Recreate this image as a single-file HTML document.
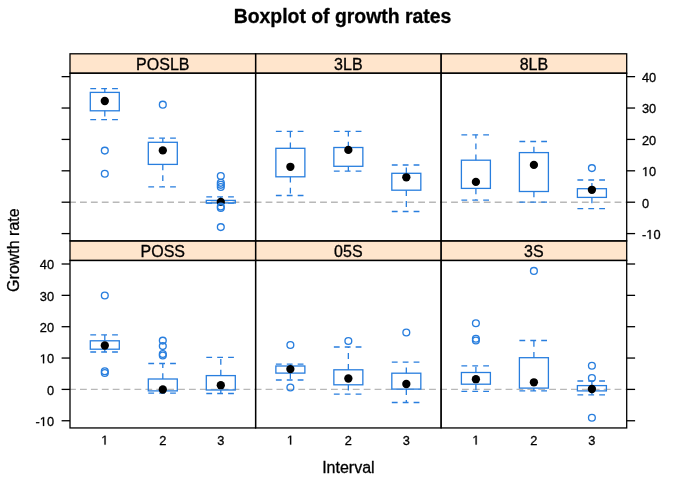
<!DOCTYPE html><html><head><meta charset="utf-8"><style>html,body{margin:0;padding:0;background:#fff;width:685px;height:489px;overflow:hidden}svg{display:block;will-change:transform}text{font-family:"Liberation Sans",sans-serif;stroke:#000;stroke-width:0.3px;paint-order:stroke}.t1{stroke:#000;stroke-width:0.3px}</style></head><body>
<svg width="685" height="489" viewBox="0 0 685 489">
<rect width="685" height="489" fill="#fff"/>
<text x="342.5" y="22.6" font-size="19.4" font-weight="bold" text-anchor="middle" fill="#000">Boxplot of growth rates</text>
<rect x="70.00" y="53.80" width="185.60" height="19.40" fill="#ffe5cc"/>
<text x="162.80" y="69.50" font-size="16" text-anchor="middle" fill="#000">POSLB</text>
<line x1="69.10" y1="202.20" x2="255.60" y2="202.20" stroke="#b8b8b8" stroke-width="1.35" stroke-dasharray="6.8 4.1"/>
<rect x="255.60" y="53.80" width="185.50" height="19.40" fill="#ffe5cc"/>
<text x="348.35" y="69.50" font-size="16" text-anchor="middle" fill="#000">3LB</text>
<line x1="254.70" y1="202.20" x2="441.10" y2="202.20" stroke="#b8b8b8" stroke-width="1.35" stroke-dasharray="6.8 4.1"/>
<rect x="441.10" y="53.80" width="185.60" height="19.40" fill="#ffe5cc"/>
<text x="533.90" y="69.50" font-size="16" text-anchor="middle" fill="#000">8LB</text>
<line x1="440.20" y1="202.20" x2="626.70" y2="202.20" stroke="#b8b8b8" stroke-width="1.35" stroke-dasharray="6.8 4.1"/>
<rect x="70.00" y="240.90" width="185.60" height="19.55" fill="#ffe5cc"/>
<text x="162.80" y="256.75" font-size="16" text-anchor="middle" fill="#000">POSS</text>
<line x1="69.10" y1="389.40" x2="255.60" y2="389.40" stroke="#b8b8b8" stroke-width="1.35" stroke-dasharray="6.8 4.1"/>
<rect x="255.60" y="240.90" width="185.50" height="19.55" fill="#ffe5cc"/>
<text x="348.35" y="256.75" font-size="16" text-anchor="middle" fill="#000">05S</text>
<line x1="254.70" y1="389.40" x2="441.10" y2="389.40" stroke="#b8b8b8" stroke-width="1.35" stroke-dasharray="6.8 4.1"/>
<rect x="441.10" y="240.90" width="185.60" height="19.55" fill="#ffe5cc"/>
<text x="533.90" y="256.75" font-size="16" text-anchor="middle" fill="#000">3S</text>
<line x1="440.20" y1="389.40" x2="626.70" y2="389.40" stroke="#b8b8b8" stroke-width="1.35" stroke-dasharray="6.8 4.1"/>
<line x1="104.80" y1="92.40" x2="104.80" y2="88.55" stroke="#287ede" stroke-width="1.30" stroke-dasharray="5.8 5.1"/><line x1="104.80" y1="110.80" x2="104.80" y2="119.70" stroke="#287ede" stroke-width="1.30" stroke-dasharray="5.8 5.1"/><line x1="90.30" y1="88.55" x2="119.30" y2="88.55" stroke="#287ede" stroke-width="1.30" stroke-dasharray="5.8 5.1"/><line x1="90.30" y1="119.70" x2="119.30" y2="119.70" stroke="#287ede" stroke-width="1.30" stroke-dasharray="5.8 5.1"/><rect x="90.30" y="92.40" width="29.00" height="18.40" fill="none" stroke="#287ede" stroke-width="1.30"/><circle cx="104.80" cy="101.00" r="4.15" fill="#000"/><circle cx="104.80" cy="150.60" r="3.40" fill="none" stroke="#287ede" stroke-width="1.35"/><circle cx="104.80" cy="173.70" r="3.40" fill="none" stroke="#287ede" stroke-width="1.35"/>
<line x1="162.80" y1="142.30" x2="162.80" y2="138.20" stroke="#287ede" stroke-width="1.30" stroke-dasharray="5.8 5.1"/><line x1="162.80" y1="164.40" x2="162.80" y2="186.90" stroke="#287ede" stroke-width="1.30" stroke-dasharray="5.8 5.1"/><line x1="148.30" y1="138.20" x2="177.30" y2="138.20" stroke="#287ede" stroke-width="1.30" stroke-dasharray="5.8 5.1"/><line x1="148.30" y1="186.90" x2="177.30" y2="186.90" stroke="#287ede" stroke-width="1.30" stroke-dasharray="5.8 5.1"/><rect x="148.30" y="142.30" width="29.00" height="22.10" fill="none" stroke="#287ede" stroke-width="1.30"/><circle cx="162.80" cy="150.40" r="4.15" fill="#000"/><circle cx="162.80" cy="104.70" r="3.40" fill="none" stroke="#287ede" stroke-width="1.35"/>
<line x1="220.80" y1="200.40" x2="220.80" y2="196.90" stroke="#287ede" stroke-width="1.30" stroke-dasharray="5.8 5.1"/><line x1="220.80" y1="203.00" x2="220.80" y2="203.20" stroke="#287ede" stroke-width="1.30" stroke-dasharray="5.8 5.1"/><line x1="206.30" y1="196.90" x2="235.30" y2="196.90" stroke="#287ede" stroke-width="1.30" stroke-dasharray="5.8 5.1"/><line x1="206.30" y1="203.20" x2="235.30" y2="203.20" stroke="#287ede" stroke-width="1.30" stroke-dasharray="5.8 5.1"/><rect x="206.30" y="200.40" width="29.00" height="2.60" fill="none" stroke="#287ede" stroke-width="1.30"/><circle cx="220.80" cy="201.90" r="4.15" fill="#000"/><circle cx="220.80" cy="176.00" r="3.40" fill="none" stroke="#287ede" stroke-width="1.35"/><circle cx="220.80" cy="182.80" r="3.40" fill="none" stroke="#287ede" stroke-width="1.35"/><circle cx="220.80" cy="184.80" r="3.40" fill="none" stroke="#287ede" stroke-width="1.35"/><circle cx="220.80" cy="187.00" r="3.40" fill="none" stroke="#287ede" stroke-width="1.35"/><circle cx="220.80" cy="206.60" r="3.40" fill="none" stroke="#287ede" stroke-width="1.35"/><circle cx="220.80" cy="208.00" r="3.40" fill="none" stroke="#287ede" stroke-width="1.35"/><circle cx="220.80" cy="227.10" r="3.40" fill="none" stroke="#287ede" stroke-width="1.35"/>
<line x1="290.38" y1="148.30" x2="290.38" y2="131.40" stroke="#287ede" stroke-width="1.30" stroke-dasharray="5.8 5.1"/><line x1="290.38" y1="176.80" x2="290.38" y2="195.50" stroke="#287ede" stroke-width="1.30" stroke-dasharray="5.8 5.1"/><line x1="275.88" y1="131.40" x2="304.88" y2="131.40" stroke="#287ede" stroke-width="1.30" stroke-dasharray="5.8 5.1"/><line x1="275.88" y1="195.50" x2="304.88" y2="195.50" stroke="#287ede" stroke-width="1.30" stroke-dasharray="5.8 5.1"/><rect x="275.88" y="148.30" width="29.00" height="28.50" fill="none" stroke="#287ede" stroke-width="1.30"/><circle cx="290.38" cy="166.80" r="4.15" fill="#000"/>
<line x1="348.35" y1="147.50" x2="348.35" y2="131.40" stroke="#287ede" stroke-width="1.30" stroke-dasharray="5.8 5.1"/><line x1="348.35" y1="166.30" x2="348.35" y2="171.10" stroke="#287ede" stroke-width="1.30" stroke-dasharray="5.8 5.1"/><line x1="333.85" y1="131.40" x2="362.85" y2="131.40" stroke="#287ede" stroke-width="1.30" stroke-dasharray="5.8 5.1"/><line x1="333.85" y1="171.10" x2="362.85" y2="171.10" stroke="#287ede" stroke-width="1.30" stroke-dasharray="5.8 5.1"/><rect x="333.85" y="147.50" width="29.00" height="18.80" fill="none" stroke="#287ede" stroke-width="1.30"/><circle cx="348.35" cy="149.90" r="4.15" fill="#000"/>
<line x1="406.32" y1="173.30" x2="406.32" y2="165.00" stroke="#287ede" stroke-width="1.30" stroke-dasharray="5.8 5.1"/><line x1="406.32" y1="190.20" x2="406.32" y2="211.50" stroke="#287ede" stroke-width="1.30" stroke-dasharray="5.8 5.1"/><line x1="391.82" y1="165.00" x2="420.82" y2="165.00" stroke="#287ede" stroke-width="1.30" stroke-dasharray="5.8 5.1"/><line x1="391.82" y1="211.50" x2="420.82" y2="211.50" stroke="#287ede" stroke-width="1.30" stroke-dasharray="5.8 5.1"/><rect x="391.82" y="173.30" width="29.00" height="16.90" fill="none" stroke="#287ede" stroke-width="1.30"/><circle cx="406.32" cy="177.30" r="4.15" fill="#000"/>
<line x1="475.90" y1="160.20" x2="475.90" y2="134.80" stroke="#287ede" stroke-width="1.30" stroke-dasharray="5.8 5.1"/><line x1="475.90" y1="188.40" x2="475.90" y2="200.10" stroke="#287ede" stroke-width="1.30" stroke-dasharray="5.8 5.1"/><line x1="461.40" y1="134.80" x2="490.40" y2="134.80" stroke="#287ede" stroke-width="1.30" stroke-dasharray="5.8 5.1"/><line x1="461.40" y1="200.10" x2="490.40" y2="200.10" stroke="#287ede" stroke-width="1.30" stroke-dasharray="5.8 5.1"/><rect x="461.40" y="160.20" width="29.00" height="28.20" fill="none" stroke="#287ede" stroke-width="1.30"/><circle cx="475.90" cy="181.90" r="4.15" fill="#000"/>
<line x1="533.90" y1="152.60" x2="533.90" y2="141.50" stroke="#287ede" stroke-width="1.30" stroke-dasharray="5.8 5.1"/><line x1="533.90" y1="191.50" x2="533.90" y2="202.10" stroke="#287ede" stroke-width="1.30" stroke-dasharray="5.8 5.1"/><line x1="519.40" y1="141.50" x2="548.40" y2="141.50" stroke="#287ede" stroke-width="1.30" stroke-dasharray="5.8 5.1"/><line x1="519.40" y1="202.10" x2="548.40" y2="202.10" stroke="#287ede" stroke-width="1.30" stroke-dasharray="5.8 5.1"/><rect x="519.40" y="152.60" width="29.00" height="38.90" fill="none" stroke="#287ede" stroke-width="1.30"/><circle cx="533.90" cy="164.90" r="4.15" fill="#000"/>
<line x1="591.90" y1="188.70" x2="591.90" y2="180.00" stroke="#287ede" stroke-width="1.30" stroke-dasharray="5.8 5.1"/><line x1="591.90" y1="197.40" x2="591.90" y2="208.70" stroke="#287ede" stroke-width="1.30" stroke-dasharray="5.8 5.1"/><line x1="577.40" y1="180.00" x2="606.40" y2="180.00" stroke="#287ede" stroke-width="1.30" stroke-dasharray="5.8 5.1"/><line x1="577.40" y1="208.70" x2="606.40" y2="208.70" stroke="#287ede" stroke-width="1.30" stroke-dasharray="5.8 5.1"/><rect x="577.40" y="188.70" width="29.00" height="8.70" fill="none" stroke="#287ede" stroke-width="1.30"/><circle cx="591.90" cy="189.80" r="4.15" fill="#000"/><circle cx="591.90" cy="168.10" r="3.40" fill="none" stroke="#287ede" stroke-width="1.35"/>
<line x1="104.80" y1="340.80" x2="104.80" y2="334.90" stroke="#287ede" stroke-width="1.30" stroke-dasharray="5.8 5.1"/><line x1="104.80" y1="349.20" x2="104.80" y2="352.00" stroke="#287ede" stroke-width="1.30" stroke-dasharray="5.8 5.1"/><line x1="90.30" y1="334.90" x2="119.30" y2="334.90" stroke="#287ede" stroke-width="1.30" stroke-dasharray="5.8 5.1"/><line x1="90.30" y1="352.00" x2="119.30" y2="352.00" stroke="#287ede" stroke-width="1.30" stroke-dasharray="5.8 5.1"/><rect x="90.30" y="340.80" width="29.00" height="8.40" fill="none" stroke="#287ede" stroke-width="1.30"/><circle cx="104.80" cy="345.50" r="4.15" fill="#000"/><circle cx="104.80" cy="295.50" r="3.40" fill="none" stroke="#287ede" stroke-width="1.35"/><circle cx="104.80" cy="371.30" r="3.40" fill="none" stroke="#287ede" stroke-width="1.35"/><circle cx="104.80" cy="373.00" r="3.40" fill="none" stroke="#287ede" stroke-width="1.35"/>
<line x1="162.80" y1="379.00" x2="162.80" y2="363.50" stroke="#287ede" stroke-width="1.30" stroke-dasharray="5.8 5.1"/><line x1="162.80" y1="390.90" x2="162.80" y2="393.10" stroke="#287ede" stroke-width="1.30" stroke-dasharray="5.8 5.1"/><line x1="148.30" y1="363.50" x2="177.30" y2="363.50" stroke="#287ede" stroke-width="1.30" stroke-dasharray="5.8 5.1"/><line x1="148.30" y1="393.10" x2="177.30" y2="393.10" stroke="#287ede" stroke-width="1.30" stroke-dasharray="5.8 5.1"/><rect x="148.30" y="379.00" width="29.00" height="11.90" fill="none" stroke="#287ede" stroke-width="1.30"/><circle cx="162.80" cy="389.50" r="4.15" fill="#000"/><circle cx="162.80" cy="340.60" r="3.40" fill="none" stroke="#287ede" stroke-width="1.35"/><circle cx="162.80" cy="346.10" r="3.40" fill="none" stroke="#287ede" stroke-width="1.35"/><circle cx="162.80" cy="354.00" r="3.40" fill="none" stroke="#287ede" stroke-width="1.35"/><circle cx="162.80" cy="355.50" r="3.40" fill="none" stroke="#287ede" stroke-width="1.35"/>
<line x1="220.80" y1="375.60" x2="220.80" y2="357.40" stroke="#287ede" stroke-width="1.30" stroke-dasharray="5.8 5.1"/><line x1="220.80" y1="390.00" x2="220.80" y2="393.50" stroke="#287ede" stroke-width="1.30" stroke-dasharray="5.8 5.1"/><line x1="206.30" y1="357.40" x2="235.30" y2="357.40" stroke="#287ede" stroke-width="1.30" stroke-dasharray="5.8 5.1"/><line x1="206.30" y1="393.50" x2="235.30" y2="393.50" stroke="#287ede" stroke-width="1.30" stroke-dasharray="5.8 5.1"/><rect x="206.30" y="375.60" width="29.00" height="14.40" fill="none" stroke="#287ede" stroke-width="1.30"/><circle cx="220.80" cy="385.20" r="4.15" fill="#000"/>
<line x1="290.38" y1="366.00" x2="290.38" y2="364.10" stroke="#287ede" stroke-width="1.30" stroke-dasharray="5.8 5.1"/><line x1="290.38" y1="373.10" x2="290.38" y2="380.00" stroke="#287ede" stroke-width="1.30" stroke-dasharray="5.8 5.1"/><line x1="275.88" y1="364.10" x2="304.88" y2="364.10" stroke="#287ede" stroke-width="1.30" stroke-dasharray="5.8 5.1"/><line x1="275.88" y1="380.00" x2="304.88" y2="380.00" stroke="#287ede" stroke-width="1.30" stroke-dasharray="5.8 5.1"/><rect x="275.88" y="366.00" width="29.00" height="7.10" fill="none" stroke="#287ede" stroke-width="1.30"/><circle cx="290.38" cy="369.10" r="4.15" fill="#000"/><circle cx="290.38" cy="345.00" r="3.40" fill="none" stroke="#287ede" stroke-width="1.35"/><circle cx="290.38" cy="387.50" r="3.40" fill="none" stroke="#287ede" stroke-width="1.35"/>
<line x1="348.35" y1="369.80" x2="348.35" y2="347.00" stroke="#287ede" stroke-width="1.30" stroke-dasharray="5.8 5.1"/><line x1="348.35" y1="384.80" x2="348.35" y2="394.10" stroke="#287ede" stroke-width="1.30" stroke-dasharray="5.8 5.1"/><line x1="333.85" y1="347.00" x2="362.85" y2="347.00" stroke="#287ede" stroke-width="1.30" stroke-dasharray="5.8 5.1"/><line x1="333.85" y1="394.10" x2="362.85" y2="394.10" stroke="#287ede" stroke-width="1.30" stroke-dasharray="5.8 5.1"/><rect x="333.85" y="369.80" width="29.00" height="15.00" fill="none" stroke="#287ede" stroke-width="1.30"/><circle cx="348.35" cy="378.50" r="4.15" fill="#000"/><circle cx="348.35" cy="341.00" r="3.40" fill="none" stroke="#287ede" stroke-width="1.35"/>
<line x1="406.32" y1="373.20" x2="406.32" y2="362.10" stroke="#287ede" stroke-width="1.30" stroke-dasharray="5.8 5.1"/><line x1="406.32" y1="389.10" x2="406.32" y2="402.50" stroke="#287ede" stroke-width="1.30" stroke-dasharray="5.8 5.1"/><line x1="391.82" y1="362.10" x2="420.82" y2="362.10" stroke="#287ede" stroke-width="1.30" stroke-dasharray="5.8 5.1"/><line x1="391.82" y1="402.50" x2="420.82" y2="402.50" stroke="#287ede" stroke-width="1.30" stroke-dasharray="5.8 5.1"/><rect x="391.82" y="373.20" width="29.00" height="15.90" fill="none" stroke="#287ede" stroke-width="1.30"/><circle cx="406.32" cy="384.00" r="4.15" fill="#000"/><circle cx="406.32" cy="332.50" r="3.40" fill="none" stroke="#287ede" stroke-width="1.35"/>
<line x1="475.90" y1="372.50" x2="475.90" y2="365.90" stroke="#287ede" stroke-width="1.30" stroke-dasharray="5.8 5.1"/><line x1="475.90" y1="384.20" x2="475.90" y2="391.40" stroke="#287ede" stroke-width="1.30" stroke-dasharray="5.8 5.1"/><line x1="461.40" y1="365.90" x2="490.40" y2="365.90" stroke="#287ede" stroke-width="1.30" stroke-dasharray="5.8 5.1"/><line x1="461.40" y1="391.40" x2="490.40" y2="391.40" stroke="#287ede" stroke-width="1.30" stroke-dasharray="5.8 5.1"/><rect x="461.40" y="372.50" width="29.00" height="11.70" fill="none" stroke="#287ede" stroke-width="1.30"/><circle cx="475.90" cy="379.20" r="4.15" fill="#000"/><circle cx="475.90" cy="323.20" r="3.40" fill="none" stroke="#287ede" stroke-width="1.35"/><circle cx="475.90" cy="338.80" r="3.40" fill="none" stroke="#287ede" stroke-width="1.35"/><circle cx="475.90" cy="340.50" r="3.40" fill="none" stroke="#287ede" stroke-width="1.35"/>
<line x1="533.90" y1="357.70" x2="533.90" y2="340.50" stroke="#287ede" stroke-width="1.30" stroke-dasharray="5.8 5.1"/><line x1="533.90" y1="388.10" x2="533.90" y2="390.90" stroke="#287ede" stroke-width="1.30" stroke-dasharray="5.8 5.1"/><line x1="519.40" y1="340.50" x2="548.40" y2="340.50" stroke="#287ede" stroke-width="1.30" stroke-dasharray="5.8 5.1"/><line x1="519.40" y1="390.90" x2="548.40" y2="390.90" stroke="#287ede" stroke-width="1.30" stroke-dasharray="5.8 5.1"/><rect x="519.40" y="357.70" width="29.00" height="30.40" fill="none" stroke="#287ede" stroke-width="1.30"/><circle cx="533.90" cy="382.30" r="4.15" fill="#000"/><circle cx="533.90" cy="270.90" r="3.40" fill="none" stroke="#287ede" stroke-width="1.35"/>
<line x1="591.90" y1="385.60" x2="591.90" y2="381.00" stroke="#287ede" stroke-width="1.30" stroke-dasharray="5.8 5.1"/><line x1="591.90" y1="390.90" x2="591.90" y2="394.80" stroke="#287ede" stroke-width="1.30" stroke-dasharray="5.8 5.1"/><line x1="577.40" y1="381.00" x2="606.40" y2="381.00" stroke="#287ede" stroke-width="1.30" stroke-dasharray="5.8 5.1"/><line x1="577.40" y1="394.80" x2="606.40" y2="394.80" stroke="#287ede" stroke-width="1.30" stroke-dasharray="5.8 5.1"/><rect x="577.40" y="385.60" width="29.00" height="5.30" fill="none" stroke="#287ede" stroke-width="1.30"/><circle cx="591.90" cy="389.00" r="4.15" fill="#000"/><circle cx="591.90" cy="365.80" r="3.40" fill="none" stroke="#287ede" stroke-width="1.35"/><circle cx="591.90" cy="378.00" r="3.40" fill="none" stroke="#287ede" stroke-width="1.35"/><circle cx="591.90" cy="417.70" r="3.40" fill="none" stroke="#287ede" stroke-width="1.35"/>
<rect x="70.00" y="53.80" width="185.60" height="19.40" fill="none" stroke="#000" stroke-width="1.30"/>
<rect x="70.00" y="73.20" width="185.60" height="167.70" fill="none" stroke="#000" stroke-width="1.30"/>
<rect x="255.60" y="53.80" width="185.50" height="19.40" fill="none" stroke="#000" stroke-width="1.30"/>
<rect x="255.60" y="73.20" width="185.50" height="167.70" fill="none" stroke="#000" stroke-width="1.30"/>
<rect x="441.10" y="53.80" width="185.60" height="19.40" fill="none" stroke="#000" stroke-width="1.30"/>
<rect x="441.10" y="73.20" width="185.60" height="167.70" fill="none" stroke="#000" stroke-width="1.30"/>
<rect x="70.00" y="240.90" width="185.60" height="19.55" fill="none" stroke="#000" stroke-width="1.30"/>
<rect x="70.00" y="260.45" width="185.60" height="167.50" fill="none" stroke="#000" stroke-width="1.30"/>
<rect x="255.60" y="240.90" width="185.50" height="19.55" fill="none" stroke="#000" stroke-width="1.30"/>
<rect x="255.60" y="260.45" width="185.50" height="167.50" fill="none" stroke="#000" stroke-width="1.30"/>
<rect x="441.10" y="240.90" width="185.60" height="19.55" fill="none" stroke="#000" stroke-width="1.30"/>
<rect x="441.10" y="260.45" width="185.60" height="167.50" fill="none" stroke="#000" stroke-width="1.30"/>
<line x1="61.60" y1="76.64" x2="70.00" y2="76.64" stroke="#000" stroke-width="1.30"/>
<line x1="626.70" y1="76.64" x2="635.10" y2="76.64" stroke="#000" stroke-width="1.30"/>
<text x="642.000" y="81.940" font-size="12.80" fill="#000">4</text><text x="649.119" y="81.940" font-size="12.80" fill="#000">0</text>
<line x1="61.60" y1="108.03" x2="70.00" y2="108.03" stroke="#000" stroke-width="1.30"/>
<line x1="626.70" y1="108.03" x2="635.10" y2="108.03" stroke="#000" stroke-width="1.30"/>
<text x="642.000" y="113.330" font-size="12.80" fill="#000">3</text><text x="649.119" y="113.330" font-size="12.80" fill="#000">0</text>
<line x1="61.60" y1="139.42" x2="70.00" y2="139.42" stroke="#000" stroke-width="1.30"/>
<line x1="626.70" y1="139.42" x2="635.10" y2="139.42" stroke="#000" stroke-width="1.30"/>
<text x="642.000" y="144.720" font-size="12.80" fill="#000">2</text><text x="649.119" y="144.720" font-size="12.80" fill="#000">0</text>
<line x1="61.60" y1="170.81" x2="70.00" y2="170.81" stroke="#000" stroke-width="1.30"/>
<line x1="626.70" y1="170.81" x2="635.10" y2="170.81" stroke="#000" stroke-width="1.30"/>
<path transform="translate(642.000,176.110) scale(0.00625,-0.00625)" d="M515 0L515 1237L197 1010L197 1180L530 1409L696 1409L696 0Z" fill="#000" stroke="#000" stroke-width="48.000"/><text x="649.119" y="176.110" font-size="12.80" fill="#000">0</text>
<line x1="61.60" y1="202.20" x2="70.00" y2="202.20" stroke="#000" stroke-width="1.30"/>
<line x1="626.70" y1="202.20" x2="635.10" y2="202.20" stroke="#000" stroke-width="1.30"/>
<text x="642.000" y="207.500" font-size="12.80" fill="#000">0</text>
<line x1="61.60" y1="233.59" x2="70.00" y2="233.59" stroke="#000" stroke-width="1.30"/>
<line x1="626.70" y1="233.59" x2="635.10" y2="233.59" stroke="#000" stroke-width="1.30"/>
<text x="642.000" y="238.890" font-size="12.80" fill="#000">-</text><path transform="translate(646.263,238.890) scale(0.00625,-0.00625)" d="M515 0L515 1237L197 1010L197 1180L530 1409L696 1409L696 0Z" fill="#000" stroke="#000" stroke-width="48.000"/><text x="653.381" y="238.890" font-size="12.80" fill="#000">0</text>
<line x1="61.60" y1="264.00" x2="70.00" y2="264.00" stroke="#000" stroke-width="1.30"/>
<line x1="626.70" y1="264.00" x2="635.10" y2="264.00" stroke="#000" stroke-width="1.30"/>
<text x="39.763" y="269.200" font-size="12.80" fill="#000">4</text><text x="46.881" y="269.200" font-size="12.80" fill="#000">0</text>
<line x1="61.60" y1="295.35" x2="70.00" y2="295.35" stroke="#000" stroke-width="1.30"/>
<line x1="626.70" y1="295.35" x2="635.10" y2="295.35" stroke="#000" stroke-width="1.30"/>
<text x="39.763" y="300.550" font-size="12.80" fill="#000">3</text><text x="46.881" y="300.550" font-size="12.80" fill="#000">0</text>
<line x1="61.60" y1="326.70" x2="70.00" y2="326.70" stroke="#000" stroke-width="1.30"/>
<line x1="626.70" y1="326.70" x2="635.10" y2="326.70" stroke="#000" stroke-width="1.30"/>
<text x="39.763" y="331.900" font-size="12.80" fill="#000">2</text><text x="46.881" y="331.900" font-size="12.80" fill="#000">0</text>
<line x1="61.60" y1="358.05" x2="70.00" y2="358.05" stroke="#000" stroke-width="1.30"/>
<line x1="626.70" y1="358.05" x2="635.10" y2="358.05" stroke="#000" stroke-width="1.30"/>
<path transform="translate(39.763,363.250) scale(0.00625,-0.00625)" d="M515 0L515 1237L197 1010L197 1180L530 1409L696 1409L696 0Z" fill="#000" stroke="#000" stroke-width="48.000"/><text x="46.881" y="363.250" font-size="12.80" fill="#000">0</text>
<line x1="61.60" y1="389.40" x2="70.00" y2="389.40" stroke="#000" stroke-width="1.30"/>
<line x1="626.70" y1="389.40" x2="635.10" y2="389.40" stroke="#000" stroke-width="1.30"/>
<text x="46.881" y="394.600" font-size="12.80" fill="#000">0</text>
<line x1="61.60" y1="420.75" x2="70.00" y2="420.75" stroke="#000" stroke-width="1.30"/>
<line x1="626.70" y1="420.75" x2="635.10" y2="420.75" stroke="#000" stroke-width="1.30"/>
<text x="35.500" y="425.950" font-size="12.80" fill="#000">-</text><path transform="translate(39.763,425.950) scale(0.00625,-0.00625)" d="M515 0L515 1237L197 1010L197 1180L530 1409L696 1409L696 0Z" fill="#000" stroke="#000" stroke-width="48.000"/><text x="46.881" y="425.950" font-size="12.80" fill="#000">0</text>
<path transform="translate(101.241,444.600) scale(0.00625,-0.00625)" d="M515 0L515 1237L197 1010L197 1180L530 1409L696 1409L696 0Z" fill="#000" stroke="#000" stroke-width="48.000"/>
<text x="159.241" y="444.600" font-size="12.80" fill="#000">2</text>
<text x="217.241" y="444.600" font-size="12.80" fill="#000">3</text>
<path transform="translate(286.822,444.600) scale(0.00625,-0.00625)" d="M515 0L515 1237L197 1010L197 1180L530 1409L696 1409L696 0Z" fill="#000" stroke="#000" stroke-width="48.000"/>
<text x="344.791" y="444.600" font-size="12.80" fill="#000">2</text>
<text x="402.759" y="444.600" font-size="12.80" fill="#000">3</text>
<path transform="translate(472.341,444.600) scale(0.00625,-0.00625)" d="M515 0L515 1237L197 1010L197 1180L530 1409L696 1409L696 0Z" fill="#000" stroke="#000" stroke-width="48.000"/>
<text x="530.341" y="444.600" font-size="12.80" fill="#000">2</text>
<text x="588.341" y="444.600" font-size="12.80" fill="#000">3</text>
<text x="348.4" y="472.9" font-size="16" text-anchor="middle" fill="#000">Interval</text>
<text transform="translate(19.2,250.1) rotate(-90)" x="0" y="0" font-size="16" text-anchor="middle" fill="#000">Growth rate</text>
</svg></body></html>
